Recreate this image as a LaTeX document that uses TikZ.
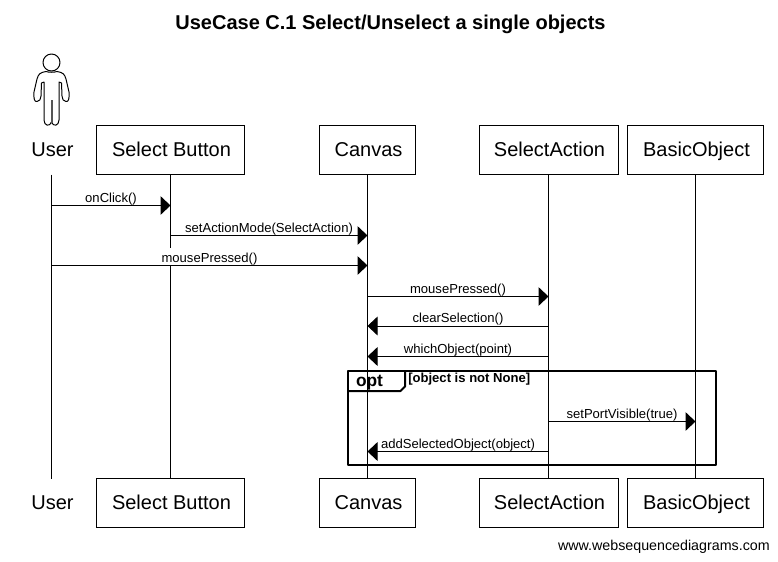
\documentclass[tikz,border=0pt]{standalone}
\usepackage{fontspec}
\setmainfont{Liberation Sans}
\usetikzlibrary{arrows.meta,positioning}
\definecolor{Ink}{HTML}{000000}
\definecolor{Paper}{HTML}{FFFFFF}
\definecolor{LegGray}{HTML}{555555}
\tikzset{
  lane/.style={
    draw=Ink, line width=0.75pt, fill=Paper, outer sep=0pt, inner sep=0pt,
    minimum height=36.75pt, text height=12pt, text depth=2.25pt,
    font=\fontsize{15}{18}\selectfont, execute at begin node=\hspace*{1.5pt}
  },
  person/.style={lane, draw=none, fill=none},
  life/.style={draw=Ink, line width=0.75pt},
  msg/.style={-{Triangle[length=7.5pt,width=14pt]}, draw=Ink, line width=0.75pt},
  msglabel/.style={
    fill=Paper, inner sep=0pt, outer sep=0pt, above=0.4pt, text height=10.5pt, text depth=2.2pt,
    font=\fontsize{9.8}{12}\selectfont
  },
  figure/.style={draw=Ink, line width=0.75pt, line join=round},
  frame/.style={draw=Ink, line width=1.5pt, line join=round}
}
\begin{document}
\begin{tikzpicture}[x=0.75pt,y=-0.75pt]
  \useasboundingbox[fill=Paper] (0,0) rectangle (778,561);
  \node[font=\fontsize{15}{18}\selectfont\bfseries] (title) at (390.5,24) {UseCase C.1 Select/Unselect a single objects};

  % top row
  \node[person,minimum width=60pt] (UserTop) at (51.5,150) {User};
  \node[lane,minimum width=111pt] (SelectTop) at (170.5,150) {Select Button};
  \node[lane,minimum width=72pt] (CanvasTop) at (367.5,150) {Canvas};
  \node[lane,minimum width=104.25pt] (ActionTop) at (548.5,150) {SelectAction};
  \node[lane,minimum width=102pt] (ObjectTop) at (695.5,150) {BasicObject};

  % bottom row
  \node[person,minimum width=60pt] (UserBot) at (51.5,503) {User};
  \node[lane,minimum width=111pt] (SelectBot) at (170.5,503) {Select Button};
  \node[lane,minimum width=72pt] (CanvasBot) at (367.5,503) {Canvas};
  \node[lane,minimum width=104.25pt] (ActionBot) at (548.5,503) {SelectAction};
  \node[lane,minimum width=102pt] (ObjectBot) at (695.5,503) {BasicObject};

  % lifelines
  \draw[life] (UserTop) -- (UserBot);
  \draw[life] (SelectTop) -- (SelectBot);
  \draw[life] (CanvasTop) -- (CanvasBot);
  \draw[life] (ActionTop) -- (ActionBot);
  \draw[life] (ObjectTop) -- (ObjectBot);

  % the user figure
  \draw[figure] (51.5,62.5) circle (8.5);
  \draw[figure] (46,71.5) .. controls (40,72.5) and (38.5,74) .. (37,79)
    -- (34,92) .. controls (33.5,99) and (34.5,102) .. (37,101.5)
    .. controls (40,101.5) and (40.5,99) .. (41,96) -- (41.5,83)
    -- (44,82) -- (44,120) .. controls (44,126) and (50,127) .. (51.5,122)
    .. controls (53,127) and (59,126) .. (59,120) -- (59,82)
    -- (61.5,83) -- (62,96) .. controls (62.5,99) and (63,101.5) .. (66,101.5)
    .. controls (68.5,102) and (69.5,99) .. (69,92)
    -- (66,79) .. controls (64.5,74) and (63,72.5) .. (57,71.5)
    .. controls (54,72.5) and (49,72.5) .. (46,71.5) -- cycle;
  \draw[draw=LegGray,line width=1.5pt] (51.5,100) -- (51.5,122.5);

  % messages
  \coordinate (m1) at (0,205.5);
  \coordinate (m2) at (0,235.5);
  \coordinate (m3) at (0,265.5);
  \coordinate (m4) at (0,296.5);
  \coordinate (m5) at (0,326);
  \coordinate (m6) at (0,356.5);
  \coordinate (m7) at (0,421.5);
  \coordinate (m8) at (0,451.5);
  \draw[msg] (UserTop |- m1) -- node[msglabel] (onclick) {onClick()} (SelectTop |- m1);
  \draw[msg] (SelectTop |- m2) -- node[msglabel] (setmode) {setActionMode(SelectAction)} (CanvasTop |- m2);
  \draw[msg] (UserTop |- m3) -- node[msglabel] (press) {mousePressed()} (CanvasTop |- m3);
  \draw[msg] (CanvasTop |- m4) -- node[msglabel] (pressagain) {mousePressed()} (ActionTop |- m4);
  \draw[msg] (ActionTop |- m5) -- node[msglabel] (clear) {clearSelection()} (CanvasTop |- m5);
  \draw[msg] (ActionTop |- m6) -- node[msglabel] (which) {whichObject(point)} (CanvasTop |- m6);
  \draw[msg] (ActionTop |- m7) -- node[msglabel] (visible) {setPortVisible(true)} (ObjectTop |- m7);
  \draw[msg] (ActionTop |- m8) -- node[msglabel] (add) {addSelectedObject(object)} (CanvasTop |- m8);

  % opt frame
  \draw[frame] (348,370.5) rectangle (716,465);
  \draw[frame] (348,391) -- (400.5,391) -- (405,386.5) -- (405,370.5);
  \node[font=\fontsize{13}{15}\selectfont\bfseries] (opt) at (369.5,382.5) {opt};
  \node[anchor=west,inner sep=0pt,font=\fontsize{9.8}{12}\selectfont\bfseries] (guard) at (408,379) {[object is not None]};

  \node[anchor=east,inner sep=0pt,font=\fontsize{10.7}{13}\selectfont] (site) at (770,546.5) {www.websequencediagrams.com};
\end{tikzpicture}
\end{document}
